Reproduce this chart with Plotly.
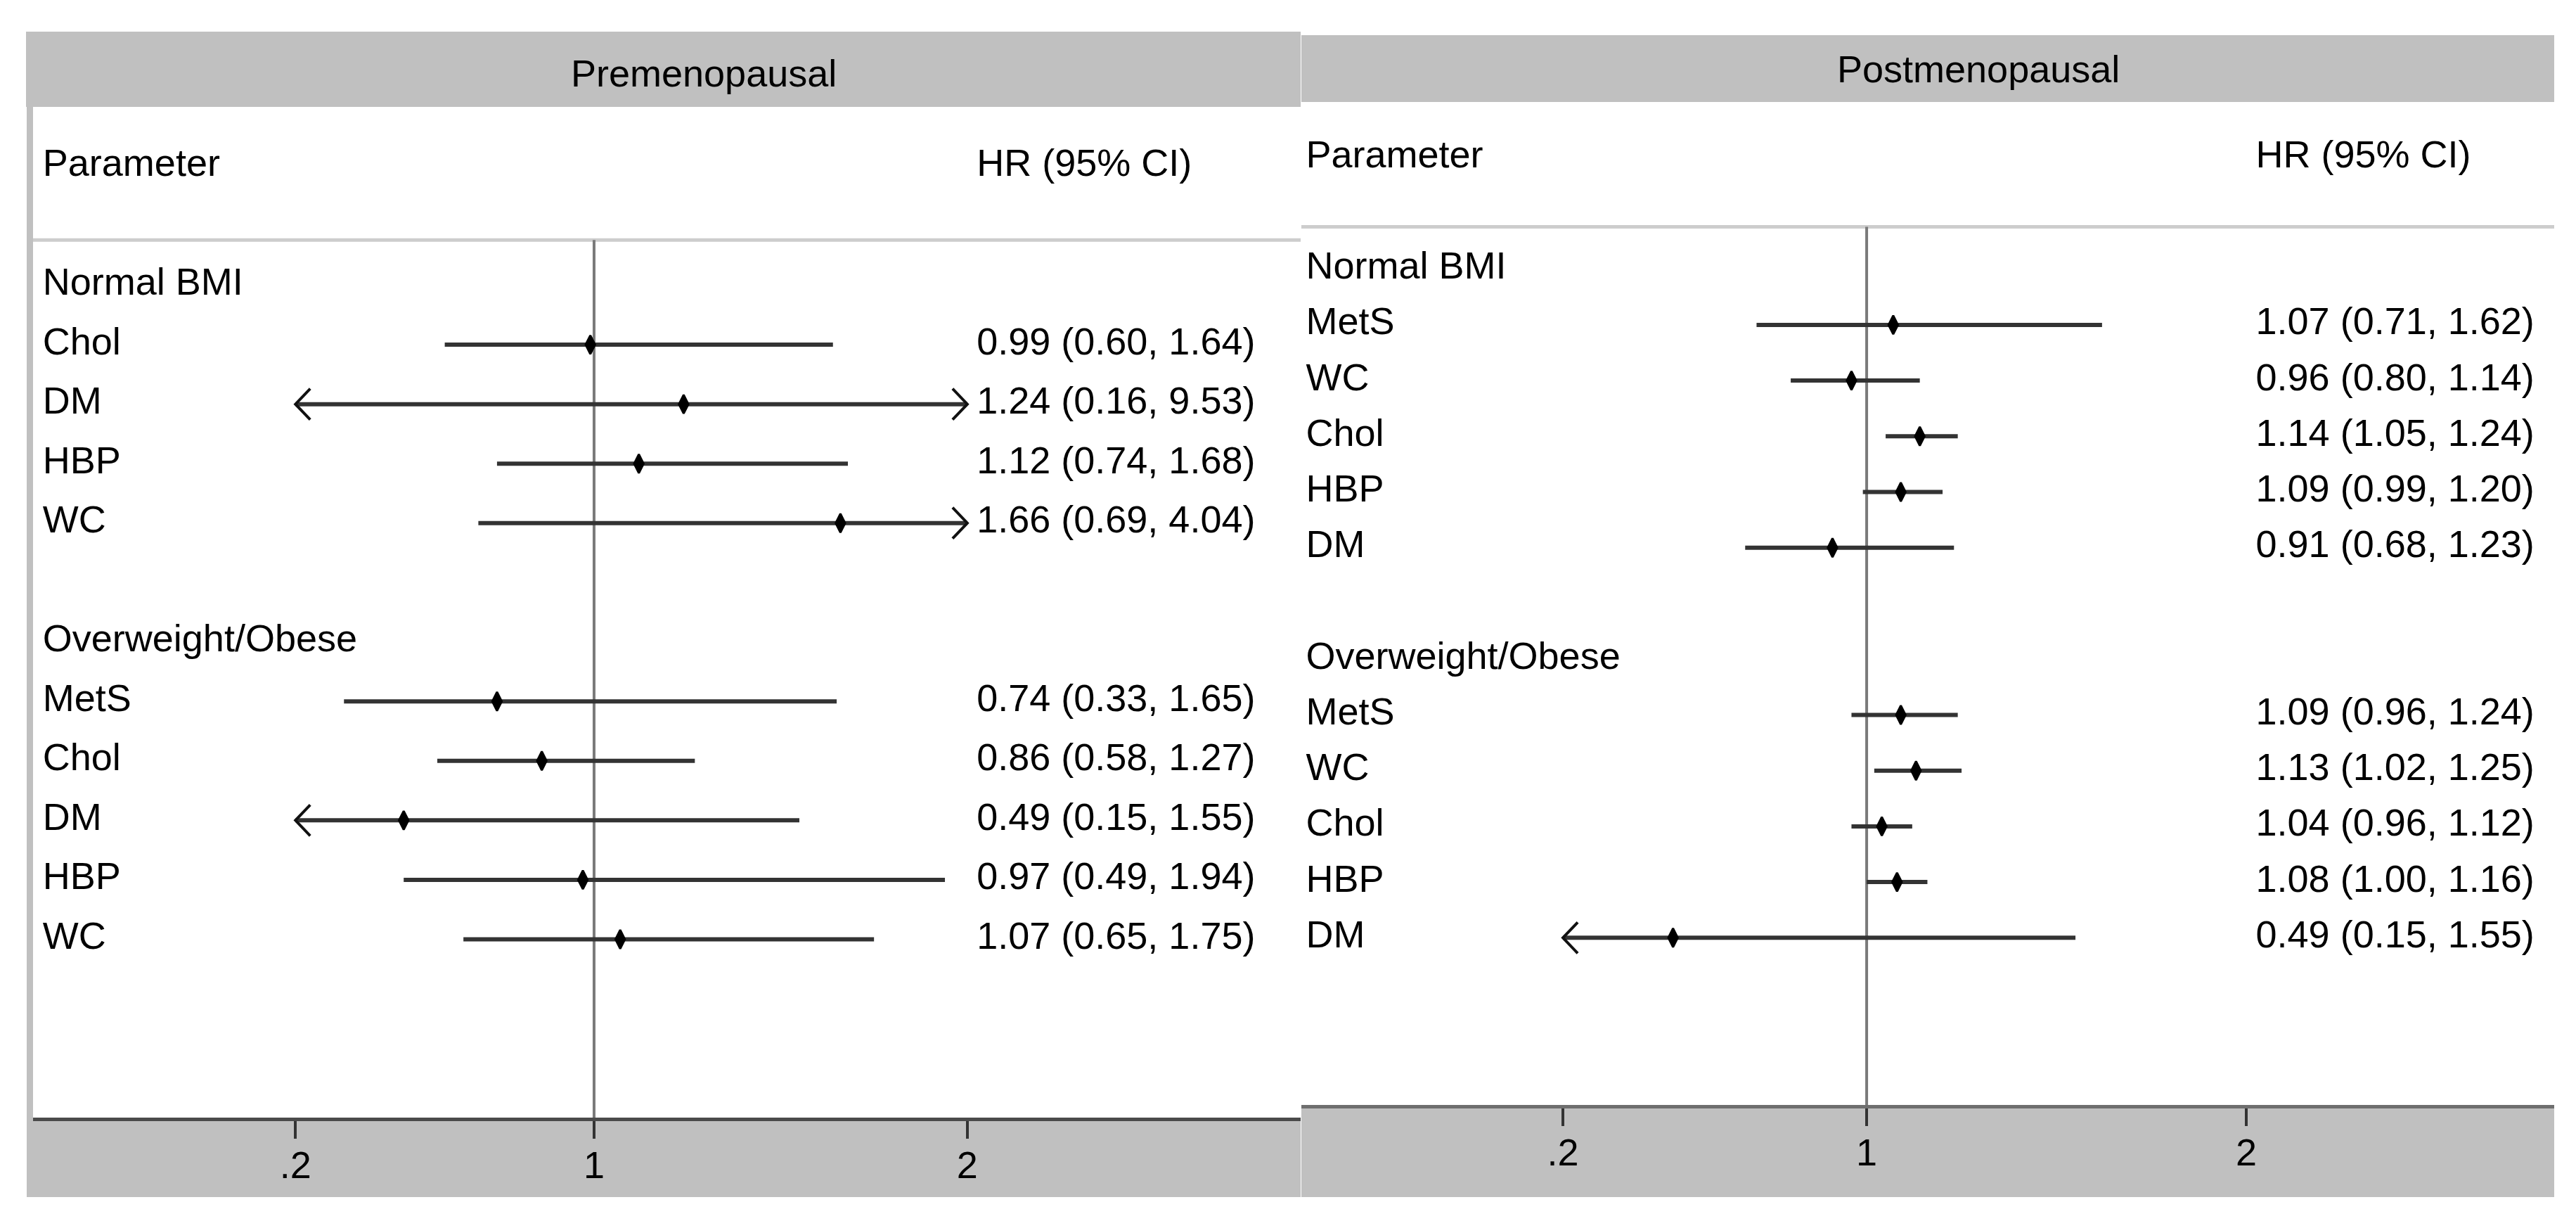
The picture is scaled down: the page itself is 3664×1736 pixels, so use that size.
import plotly.graph_objects as go

W, H = 3664, 1736
FONT = "Liberation Sans, Arial, sans-serif"
FS = 54

# Premenopausal panel rows (group headers have no estimate)
pre_labels = ["Normal BMI", "Chol", "DM", "HBP", "WC", "",
              "Overweight/Obese", "MetS", "Chol", "DM", "HBP", "WC"]
pre_hr = [None, 0.99, 1.24, 1.12, 1.66, None, None, 0.74, 0.86, 0.49, 0.97, 1.07]
pre_lo = [None, 0.60, 0.16, 0.74, 0.69, None, None, 0.33, 0.58, 0.15, 0.49, 0.65]
pre_hi = [None, 1.64, 9.53, 1.68, 4.04, None, None, 1.65, 1.27, 1.55, 1.94, 1.75]

# Postmenopausal panel rows
post_labels = ["Normal BMI", "MetS", "WC", "Chol", "HBP", "DM", "",
               "Overweight/Obese", "MetS", "WC", "Chol", "HBP", "DM"]
post_hr = [None, 1.07, 0.96, 1.14, 1.09, 0.91, None, None, 1.09, 1.13, 1.04, 1.08, 0.49]
post_lo = [None, 0.71, 0.80, 1.05, 0.99, 0.68, None, None, 0.96, 1.02, 0.96, 1.00, 0.15]
post_hi = [None, 1.62, 1.14, 1.24, 1.20, 1.23, None, None, 1.24, 1.25, 1.12, 1.16, 1.55]

tick_vals = [0.2, 1, 2]
tick_text = [".2", "1", "2"]
x_min, x_max = 0.2, 2  # CI lines beyond these get arrows

panels = [
    dict(title="Premenopausal", labels=pre_labels, hr=pre_hr, lo=pre_lo, hi=pre_hi,
         box=(39, 1842, 144, 1581), xrange=(-0.503, 2.893),
         strip=(29, 1842, 37, 144), band=(30, 1842, 1581, 1694),
         title_pos=(993, 96), axis_color="#4a4a4a", border=True),
    dict(title="Postmenopausal", labels=post_labels, hr=post_hr, lo=post_lo, hi=post_hi,
         box=(1843, 3625, 137, 1563), xrange=(-0.489, 2.811),
         strip=(1843, 3625, 42, 137), band=(1843, 3625, 1563, 1694),
         title_pos=(2806, 90), axis_color="#6e6e6e", border=False),
]


def paper_x(px):
    return px / W


def paper_y(py):
    return 1 - py / H


fig = go.Figure()
shapes = []
annotations = []
layout_axes = {}

for i, p in enumerate(panels):
    sfx = "" if i == 0 else str(i + 1)
    xa, ya = "x" + sfx, "y" + sfx
    n = len(p["labels"])
    x0, x1, y0, y1 = p["box"]
    r0, r1 = p["xrange"]
    ux = (x1 - x0) / (r1 - r0)          # px per HR unit
    uy = (y1 - y0) / (n + 2 + 3)        # px per row
    rows = list(range(n))

    # CI lines, clipped to the axis range
    lx, ly, ax_, ay_ = [], [], [], []
    for k in rows:
        if p["hr"][k] is None:
            continue
        lo, hi = p["lo"][k], p["hi"][k]
        lx += [max(lo, x_min), min(hi, x_max), None]
        ly += [k, k, None]
        dx, dy = 21 / ux, 22 / uy
        if lo < x_min:
            ax_ += [x_min + dx, x_min, x_min + dx, None]
            ay_ += [k - dy, k, k + dy, None]
        if hi > x_max:
            ax_ += [x_max - dx, x_max, x_max - dx, None]
            ay_ += [k - dy, k, k + dy, None]

    fig.add_trace(go.Scatter(x=lx, y=ly, mode="lines", xaxis=xa, yaxis=ya,
                             line=dict(color="#333333", width=6), hoverinfo="skip"))
    fig.add_trace(go.Scatter(x=ax_, y=ay_, mode="lines", xaxis=xa, yaxis=ya,
                             line=dict(color="#111111", width=4), hoverinfo="skip"))
    pts = [k for k in rows if p["hr"][k] is not None]
    fig.add_trace(go.Scatter(x=[p["hr"][k] for k in pts], y=pts, mode="markers",
                             xaxis=xa, yaxis=ya,
                             marker=dict(symbol="diamond-tall", size=19, color="black",
                                         line=dict(color="black", width=3))))

    # text columns
    values = ["" if p["hr"][k] is None else
              f"{p['hr'][k]:.2f} ({p['lo'][k]:.2f}, {p['hi'][k]:.2f})" for k in rows]
    fig.add_trace(go.Scatter(x=[-0.477] * (n + 1), y=[-2] + rows, mode="text",
                             text=["Parameter"] + p["labels"], textposition="middle right",
                             textfont=dict(family=FONT, size=FS, color="black"),
                             cliponaxis=False, xaxis=xa, yaxis=ya, hoverinfo="skip"))
    fig.add_trace(go.Scatter(x=[2.025] * (n + 1), y=[-2] + rows, mode="text",
                             text=["HR (95% CI)"] + values, textposition="middle right",
                             textfont=dict(family=FONT, size=FS, color="black"),
                             cliponaxis=False, xaxis=xa, yaxis=ya, hoverinfo="skip"))

    layout_axes["xaxis" + sfx] = dict(
        domain=[paper_x(x0), paper_x(x1)], range=[r0, r1], anchor=ya,
        tickvals=tick_vals, ticktext=tick_text, ticks="outside", ticklen=25,
        tickwidth=4, tickcolor="#333333", showline=True, linecolor=p["axis_color"],
        linewidth=5, showgrid=False, zeroline=False, ticklabelstandoff=-9,
        tickfont=dict(family=FONT, size=FS, color="black"), fixedrange=True)
    layout_axes["yaxis" + sfx] = dict(
        domain=[paper_y(y1), paper_y(y0)], range=[n + 2, -3], anchor=xa,
        visible=False, fixedrange=True)

    # header strip and bottom axis band
    sx0, sx1, sy0, sy1 = p["strip"]
    shapes.append(dict(type="rect", xref="paper", yref="paper", layer="below",
                       x0=paper_x(sx0), x1=paper_x(sx1), y0=paper_y(sy1), y1=paper_y(sy0),
                       fillcolor="#c0c0c0", line_width=0))
    bx0, bx1, by0, by1 = p["band"]
    shapes.append(dict(type="rect", xref="paper", yref="paper", layer="below",
                       x0=paper_x(bx0), x1=paper_x(bx1), y0=paper_y(by1), y1=paper_y(by0),
                       fillcolor="#c0c0c0", line_width=0))
    if p["border"]:
        shapes.append(dict(type="rect", xref="paper", yref="paper", layer="below",
                           x0=paper_x(bx0), x1=paper_x(x0), y0=paper_y(y1), y1=paper_y(y0),
                           fillcolor="#c0c0c0", line_width=0))
    # separator under column headers and reference line at HR = 1
    shapes.append(dict(type="line", xref=xa + " domain", yref=ya, x0=0, x1=1,
                       y0=-0.76, y1=-0.76, line=dict(color="#cdcdcd", width=5), layer="below"))
    shapes.append(dict(type="line", xref=xa, yref=ya, x0=1, x1=1, y0=-0.76, y1=n + 2,
                       line=dict(color="#7a7a7a", width=4), layer="below"))

    tx, ty = p["title_pos"]
    annotations.append(dict(text=p["title"], xref="paper", yref="paper",
                            x=paper_x(tx), y=paper_y(ty), xanchor="center", yanchor="middle",
                            showarrow=False, font=dict(family=FONT, size=FS, color="black")))

fig.update_layout(
    width=W, height=H, margin=dict(l=0, r=0, t=0, b=0),
    paper_bgcolor="white", plot_bgcolor="white", showlegend=False,
    shapes=shapes, annotations=annotations, **layout_axes,
)

fig.write_html("out.html")
